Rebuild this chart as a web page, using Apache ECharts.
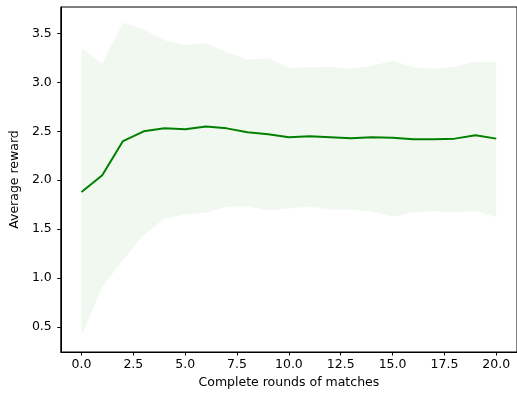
<!DOCTYPE html>
<html>
<head>
<meta charset="utf-8">
<script src="https://cdn.jsdelivr.net/npm/echarts@6/dist/echarts.min.js"></script>
<style>
  html, body { margin: 0; padding: 0; background: #fff; }
  #chart { width: 517px; height: 394px; }
</style>
</head>
<body>
<div id="chart"></div>
<script>
// Rounds played and the reward statistics recorded after each round
const rounds = [0, 1, 2, 3, 4, 5, 6, 7, 8, 9, 10, 11, 12, 13, 14, 15, 16, 17, 18, 19, 20];
const meanReward = [1.88, 2.05, 2.40, 2.50, 2.53, 2.52, 2.55, 2.53, 2.49, 2.47, 2.44, 2.45, 2.44, 2.43, 2.44, 2.435, 2.42, 2.42, 2.425, 2.46, 2.425];
const upperReward = [3.35, 3.19, 3.61, 3.54, 3.43, 3.38, 3.40, 3.31, 3.23, 3.25, 3.15, 3.155, 3.16, 3.14, 3.17, 3.22, 3.155, 3.14, 3.16, 3.21, 3.21];
const lowerReward = [0.41, 0.91, 1.185, 1.44, 1.61, 1.65, 1.67, 1.73, 1.735, 1.69, 1.71, 1.73, 1.70, 1.70, 1.68, 1.63, 1.67, 1.685, 1.67, 1.685, 1.625];
const xTicks = [0, 2.5, 5, 7.5, 10, 12.5, 15, 17.5, 20];
const yTicks = [0.5, 1.0, 1.5, 2.0, 2.5, 3.0, 3.5];

const FONT = 'DejaVu Sans';
const FS = 12.5;

const meanData = rounds.map((r, i) => [r, meanReward[i]]);
const bandData = rounds.map((r, i) => [r, lowerReward[i], upperReward[i]]);

// Shaded band: one polygon running along the upper edge and back along the lower edge
function renderBand(params, api) {
  if (params.dataIndex !== 0) return null;
  const upper = bandData.map(d => api.coord([d[0], d[2]]));
  const lower = bandData.map(d => api.coord([d[0], d[1]])).reverse();
  return {
    type: 'polygon',
    shape: { points: upper.concat(lower) },
    style: { fill: 'rgba(0,128,0,0.06)', stroke: 'none' },
    silent: true
  };
}

const chart = echarts.init(document.getElementById('chart'), null, { renderer: 'canvas' });
chart.setOption({
  animation: false,
  backgroundColor: '#ffffff',
  grid: {
    left: 58, top: 7, width: 463, height: 345,
    show: true, borderColor: '#000', borderWidth: 1, backgroundColor: 'transparent'
  },
  xAxis: {
    type: 'value',
    min: -1, max: 21,
    name: 'Complete rounds of matches',
    nameLocation: 'middle',
    nameGap: 24,
    nameTextStyle: { fontFamily: FONT, fontSize: FS, color: '#000' },
    axisLine: { show: true, onZero: false, lineStyle: { color: '#000', width: 1 } },
    axisTick: { show: true, length: 3.5, customValues: xTicks, lineStyle: { color: '#000', width: 1 } },
    axisLabel: {
      customValues: xTicks, margin: 6,
      fontFamily: FONT, fontSize: FS, color: '#000',
      formatter: v => v.toFixed(1)
    },
    splitLine: { show: false }
  },
  yAxis: {
    type: 'value',
    min: 0.245, max: 3.77,
    name: 'Average reward',
    nameLocation: 'middle',
    nameGap: 36,
    nameTextStyle: { fontFamily: FONT, fontSize: FS, color: '#000' },
    axisLine: { show: true, onZero: false, lineStyle: { color: '#000', width: 1 } },
    axisTick: { show: true, length: 3.5, customValues: yTicks, lineStyle: { color: '#000', width: 1 } },
    axisLabel: {
      customValues: yTicks, margin: 9,
      fontFamily: FONT, fontSize: FS, color: '#000',
      formatter: v => v.toFixed(1)
    },
    splitLine: { show: false }
  },
  series: [
    {
      type: 'custom',
      data: bandData,
      encode: { x: 0, y: [1, 2] },
      renderItem: renderBand,
      silent: true,
      z: 1
    },
    {
      type: 'line', data: meanData,
      symbol: 'none',
      lineStyle: { color: '#008000', width: 2 },
      z: 3
    }
  ]
});
</script>
</body>
</html>
